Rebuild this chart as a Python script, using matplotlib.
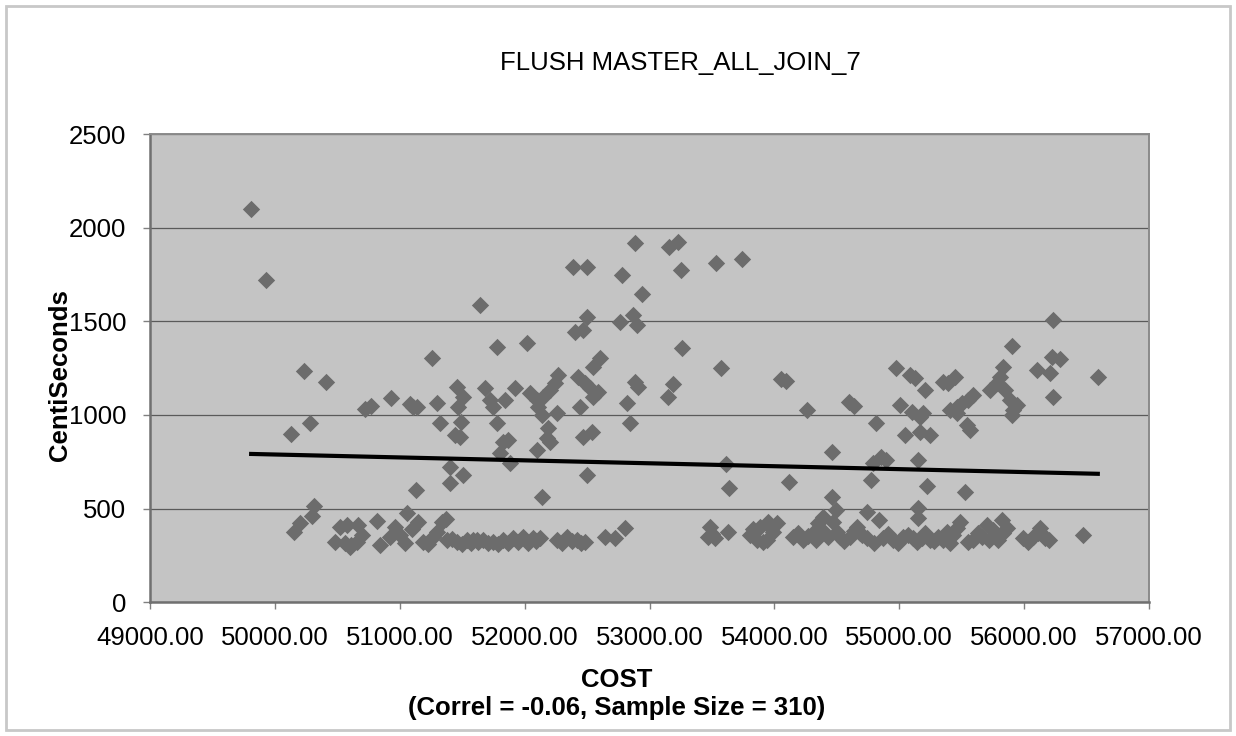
import matplotlib
matplotlib.use("Agg")
import matplotlib.pyplot as plt
from matplotlib.patches import Rectangle

plt.rcParams['font.family'] = ['Liberation Sans', 'DejaVu Sans']

title = "FLUSH MASTER_ALL_JOIN_7"
x_label = "COST"
x_sub = "(Correl = -0.06, Sample Size = 310)"
y_label = "CentiSeconds"

x_ticks = [49000, 50000, 51000, 52000, 53000, 54000, 55000, 56000, 57000]
y_ticks = [0, 500, 1000, 1500, 2000, 2500]

# upper scattered points
cost_upper = [
    49810, 49930, 50230, 50410, 50720, 50770, 50930, 50280, 50130,
    51080, 51110, 51140, 51260, 51300, 51320, 51460, 51510, 51470, 51490, 51440, 51480,
    51400, 51400, 51510, 51130, 51640, 51780, 52020, 51680, 51720, 51750, 51780, 51840,
    51920, 51830, 51870, 51800, 51880, 52040, 52100, 52150, 52200, 52240, 52270, 52110,
    52260, 52140, 52190, 52180, 52200, 52100, 52140, 52390, 52500, 52500, 52400, 52470,
    52550, 52600, 52430, 52480, 52520, 52590, 52550, 52440, 52470, 52540, 52500, 52880,
    52780, 52940, 52760, 52870, 52900, 52880, 52910, 52820, 52840,
    53160, 53230, 53250, 53530, 53740, 53260, 53570, 53190, 53150, 54050, 54090, 54260,
    54600, 54640, 54810, 54970, 53610, 53640, 54120, 54460, 54460, 54490, 54770, 54790,
    54850, 54890, 54740, 54840,
    56230, 55900, 56220, 56290, 56100, 56210, 56590, 56230, 55830, 55810, 55780, 55730,
    55850, 55890, 55940, 55910, 55900, 55450, 55390, 55350, 55590, 55550, 55500, 55460,
    55410, 55460, 55540, 55570, 55090, 55130, 55210, 55010, 55100, 55170, 55190, 55050,
    55170, 55250, 55150, 55220, 55530, 55150,
]
centisec_upper = [
    2100, 1720, 1236, 1174, 1030, 1050, 1089, 955, 897,
    1060, 1040, 1045, 1302, 1062, 955, 1151, 1097, 1044, 964, 893, 884,
    724, 635, 680, 600, 1587, 1364, 1386, 1142, 1080, 1044, 955, 1080,
    1142, 857, 866, 795, 742, 1116, 1080, 1097, 1133, 1169, 1213, 1044,
    1009, 1000, 929, 875, 857, 813, 564, 1791, 1791, 1525, 1444, 1453,
    1258, 1302, 1204, 1169, 1142, 1124, 1097, 1044, 884, 911, 680, 1916,
    1747, 1646, 1498, 1534, 1480, 1178, 1151, 1062, 955,
    1898, 1925, 1774, 1810, 1831, 1359, 1249, 1164, 1097, 1190, 1180, 1026,
    1070, 1050, 955, 1249, 740, 610, 641, 801, 560, 495, 653, 742,
    777, 760, 484, 439,
    1507, 1368, 1311, 1297, 1240, 1222, 1204, 1097, 1258, 1204, 1169, 1133,
    1133, 1080, 1054, 1026, 1000, 1204, 1169, 1178, 1106, 1080, 1062, 1044,
    1026, 1009, 946, 920, 1213, 1195, 1133, 1054, 1017, 991, 1009, 893,
    911, 893, 760, 620, 590, 502,
]

# lower dense band
cost_lower = [
    50310, 50295, 50200, 50150, 50575, 50668, 50481, 50561, 50654, 50601, 50815, 50842,
    50922, 50962, 51002, 51042, 51055, 51149, 51189, 51269, 51336, 51376, 51456, 51536,
    51615, 51370,
    51589, 51669, 51749, 51829, 51909, 51989, 52069, 52123, 52256, 52336, 52416, 52483,
    52643, 52723, 52803,
    53485, 53472, 53525, 53632, 53805, 53858, 53885, 53951, 54018, 53938, 53991, 54152,
    54231, 54311, 54352, 54392, 54432, 54472, 54525, 54605, 54659,
    54685, 54739, 54872, 54952, 55032, 55112, 55153, 55179, 55246, 55313, 55380, 55460,
    55486, 55406, 55593, 55660, 55700, 55753, 55820, 55793, 55993, 56073, 56126, 56166,
    56473, 55833, 56126,
    50520, 50610, 50700, 51100, 51230, 51300, 51420, 51500, 51570, 51630, 51710, 51790,
    51870, 51950, 52030, 52090, 52296, 52376, 52450, 53500, 53830, 53910, 53970, 54190,
    54270, 54330, 54380, 54500, 54560, 54640, 54700, 54800, 54910, 54990, 55070, 55140,
    55210, 55280, 55350, 55430, 55550, 55630, 55720, 55860, 56030, 56110, 56200,
]
centisec_lower = [
    514, 463, 425, 377, 413, 413, 323, 315, 323, 297, 436, 306,
    350, 404, 359, 315, 475, 430, 323, 350, 430, 333, 323, 333,
    333, 445,
    333, 333, 323, 333, 342, 350, 342, 342, 333, 350, 333, 323,
    350, 342, 395,
    404, 350, 342, 377, 359, 333, 404, 430, 422, 333, 377, 350,
    333, 368, 422, 457, 350, 430, 350, 350, 404,
    368, 342, 342, 333, 350, 342, 448, 342, 333, 350, 377, 395,
    430, 315, 333, 350, 413, 386, 440, 333, 342, 350, 395, 342,
    359, 368, 377,
    400, 305, 360, 390, 310, 375, 340, 310, 315, 320, 315, 310,
    318, 322, 318, 325, 318, 325, 315, 365, 390, 320, 395, 370,
    355, 330, 385, 375, 325, 380, 360, 315, 365, 318, 360, 320,
    370, 325, 330, 360, 320, 370, 330, 395, 320, 370, 330,
]

# linear trend (value at each end of the data range)
trend_cost = [49810, 56590]
trend_centisec = [792, 686]

fig = plt.figure(figsize=(12.36, 7.36), dpi=100)
fig.patch.set_facecolor('white')
ax = fig.add_axes([150/1236, 1-602.3/736, (1149-150)/1236, (602.3-134)/736])
ax.set_facecolor('#c4c4c4')

ax.scatter(cost_upper + cost_lower, centisec_upper + centisec_lower, marker='D', s=78,
           color='#6c6c6c', linewidths=0, zorder=3)
ax.plot(trend_cost, trend_centisec, color='black', lw=3.0, zorder=4)

ax.set_xlim(49000, 57000)
ax.set_ylim(0, 2500)
ax.set_xticks(x_ticks)
ax.set_xticklabels([f"{v:.2f}" for v in x_ticks])
ax.set_yticks(y_ticks)
ax.set_yticklabels([str(v) for v in y_ticks])
ax.yaxis.grid(True, color='#5a5a5a', lw=0.9)
ax.set_axisbelow(True)
ax.tick_params(axis='both', labelsize=18.5, colors='black', length=5, width=1, pad=12)
ax.tick_params(axis='both', color='#808080')
for side in ['left', 'bottom']:
    ax.spines[side].set_color('#707070')
    ax.spines[side].set_linewidth(1.8)
for side in ['top', 'right']:
    ax.spines[side].set_color('#8a8a8a')
    ax.spines[side].set_linewidth(1.4)

fig.text(680/1236, 1-63/736, title, ha='center', va='center', fontsize=18.5)
fig.text(617/1236, 1-680/736, x_label, ha='center', va='center', fontsize=18.5, fontweight='bold')
fig.text(617/1236, 1-708/736, x_sub, ha='center', va='center', fontsize=18.5, fontweight='bold')
fig.text(60/1236, 1-375/736, y_label, ha='center', va='center', fontsize=18.5,
         fontweight='bold', rotation=90)

fig.patches.append(Rectangle((6/1236, 6/736), 1224/1236, 724/736, transform=fig.transFigure,
                             fill=False, edgecolor='#c8c8c8', lw=2))

fig.savefig('out.png', dpi=100)
